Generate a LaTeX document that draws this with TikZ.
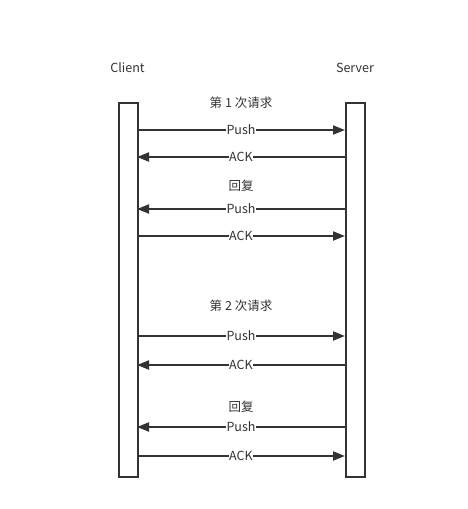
\documentclass[tikz,border=0pt]{standalone}
\usepackage{fontspec}
\setmainfont{Noto Sans CJK SC}
\usetikzlibrary{arrows.meta}
\definecolor{ink}{HTML}{333333}
\begin{document}
\begin{tikzpicture}[x=1pt,y=-1pt,
  bar/.style={draw=ink,line width=2pt,fill=white,minimum width=19pt,minimum height=374pt,inner sep=0pt,anchor=north west},
  lbl/.style={text=ink,font=\fontsize{12.5pt}{14pt}\selectfont,inner sep=1pt},
  msg/.style={fill=white,text=ink,font=\fontsize{12.5pt}{14pt}\selectfont,inner sep=0.5pt},
  flow/.style={draw=ink,line width=2pt,-{Triangle[length=12pt,width=9pt]}}]
\useasboundingbox (0,0) rectangle (467,509);
\node[bar] (cl) at (118,102) {};
\node[bar] (sv) at (345,102) {};
\node[lbl] (tc) at (127.5,68) {Client};
\node[lbl] (ts) at (355,68) {Server};
\node[lbl] (r1) at (241,103) {第 1 次请求};
\node[lbl] (h1) at (241,186) {回复};
\node[lbl] (r2) at (241,306) {第 2 次请求};
\node[lbl] (h2) at (241,407) {回复};
% helper coordinates on bar edges
\foreach \n/\y in {a/130,b/157,c/209,d/236,e/336,f/365,g/427,h/456}{
  \coordinate (L\n) at (137,\y);
  \coordinate (R\n) at (345,\y);
}
\draw[flow] (La) -- node[msg] {Push} (Ra);
\draw[flow] (Rb) -- node[msg] {ACK} (Lb);
\draw[flow] (Rc) -- node[msg] {Push} (Lc);
\draw[flow] (Ld) -- node[msg] {ACK} (Rd);
\draw[flow] (Le) -- node[msg] {Push} (Re);
\draw[flow] (Rf) -- node[msg] {ACK} (Lf);
\draw[flow] (Rg) -- node[msg] {Push} (Lg);
\draw[flow] (Lh) -- node[msg] {ACK} (Rh);
\end{tikzpicture}
\end{document}
